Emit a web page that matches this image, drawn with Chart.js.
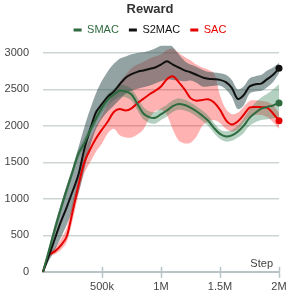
<!DOCTYPE html>
<html><head><meta charset="utf-8">
<script src="https://cdn.jsdelivr.net/npm/chart.js@4.4.1/dist/chart.umd.min.js"></script>
<style>html,body{margin:0;padding:0;background:#fff}canvas{display:block}</style>
</head><body>
<canvas id="c" width="300" height="300"></canvas>
<script>
const steps = [0,50000,100000,150000,200000,250000,300000,350000,400000,450000,
  500000,550000,600000,650000,700000,750000,800000,850000,900000,950000,
  1000000,1050000,1100000,1150000,1200000,1250000,1300000,1350000,1400000,1450000,
  1500000,1550000,1600000,1650000,1700000,1750000,1800000,1850000,1900000,1950000,2000000];
const xTickValues = [0,500000,1000000,1500000,2000000];
const xTickLabels = ['','500k','1M','1.5M','2M'];
const yTickValues = [0,500,1000,1500,2000,2500,3000];
const seriesNames = ['SMAC','S2MAC','SAC'];

const smacMean = [0,290,580,860,1120,1370,1620,1760,1940,2100,
  2250,2360,2430,2480,2470,2430,2300,2170,2120,2110,
  2160,2210,2270,2300,2285,2250,2200,2140,2070,1970,
  1890,1855,1870,1920,2000,2110,2180,2235,2260,2280,2315];
const smacUpper = [0,340,640,920,1180,1430,1680,1830,2010,2170,
  2320,2440,2510,2560,2550,2510,2390,2260,2200,2190,
  2240,2290,2350,2380,2360,2320,2270,2210,2140,2040,
  1950,1925,1945,2000,2100,2220,2320,2390,2440,2500,2570];
const smacLower = [0,250,520,800,1060,1310,1560,1700,1880,2040,
  2180,2280,2350,2400,2390,2350,2210,2090,2040,2030,
  2080,2130,2190,2220,2210,2180,2130,2070,2000,1900,
  1820,1785,1795,1840,1900,2000,2050,2080,2090,2100,2110];

const s2macMean = [0,220,450,680,880,1100,1330,1680,1950,2190,
  2300,2400,2470,2570,2660,2710,2740,2760,2780,2800,
  2840,2885,2840,2800,2760,2735,2700,2665,2645,2640,
  2630,2600,2520,2370,2420,2540,2570,2580,2640,2700,2790];
const s2macUpper = [0,320,650,920,1180,1420,1700,1980,2230,2450,
  2620,2750,2850,2920,2950,2980,3000,3010,3030,3060,
  3100,3150,3080,2980,2890,2840,2810,2770,2740,2730,
  2720,2700,2630,2500,2540,2650,2680,2700,2760,2800,2860];
const s2macLower = [0,150,300,460,640,850,1080,1400,1720,1960,
  2100,2200,2280,2360,2440,2480,2510,2530,2550,2580,
  2610,2640,2630,2620,2610,2620,2590,2540,2540,2550,
  2550,2500,2400,2230,2280,2440,2470,2480,2530,2600,2720];

const sacMean = [0,230,280,360,480,820,1180,1500,1680,1830,
  1950,2060,2190,2230,2210,2240,2310,2370,2430,2480,
  2540,2640,2680,2600,2500,2380,2345,2355,2365,2320,
  2220,2080,2020,2060,2150,2250,2260,2255,2250,2170,2070];
const sacUpper = [0,260,330,440,600,960,1320,1640,1830,2000,
  2150,2300,2450,2600,2700,2790,2840,2880,2920,2950,
  2980,3040,3060,3000,2945,2900,2840,2800,2770,2720,
  2420,2230,2160,2180,2260,2340,2350,2340,2330,2280,2180];
const sacLower = [0,200,240,300,400,700,1050,1350,1500,1650,
  1760,1900,1960,1870,1840,1840,1880,1950,2100,2200,
  2220,2150,1950,1800,1760,1770,1850,2000,2060,2080,
  2040,1960,1920,1950,2050,2120,2150,2150,2120,2050,1960];

const colors = {SMAC:'#2e6b3f', S2MAC:'#111111', SAC:'#e60000'};
const bandColors = {SMAC:'rgba(46,125,80,0.36)', S2MAC:'rgba(47,79,79,0.52)', SAC:'rgba(255,0,0,0.30)'};
const axisColor = '#b8c4c6';

const pts = arr => arr.map((v,i)=>({x:steps[i], y:v}));
const last = steps.length - 1;

function lineDs(name, mean){
  return {label:name, data:pts(mean), borderColor:colors[name], backgroundColor:colors[name],
    borderWidth:2, fill:false, tension:0.3, order:0, clip:6,
    pointRadius:ctx=>ctx.dataIndex===last?3.5:0, pointHoverRadius:0,
    pointBackgroundColor:colors[name], pointBorderWidth:0};
}
function bandDs(name, lo, hi){
  return [
    {label:name+' lo', data:pts(lo), borderWidth:0, pointRadius:0, fill:false, tension:0.3, order:5, clip:12, borderColor:'rgba(0,0,0,0)'},
    {label:name+' hi', data:pts(hi), borderWidth:0, pointRadius:0, fill:'-1', tension:0.3, order:5, clip:12, borderColor:'rgba(0,0,0,0)', backgroundColor:bandColors[name]}
  ];
}

const FONT = "'Liberation Sans', Arial, sans-serif";
Chart.defaults.font.family = FONT;

const axisExtras = {
  id:'axisExtras',
  afterDraw(chart){
    const {ctx, chartArea} = chart;
    const xs = chart.scales.x;
    ctx.save();
    ctx.strokeStyle = axisColor;
    ctx.lineWidth = 1.5;
    xTickValues.forEach(v=>{
      if (v === 0) return;
      const px = Math.round(xs.getPixelForValue(v)) + 0.5;
      ctx.beginPath();
      ctx.moveTo(px, chartArea.bottom);
      ctx.lineTo(px, chartArea.bottom - 5);
      ctx.stroke();
    });
    ctx.font = '11px ' + FONT;
    ctx.fillStyle = '#444';
    ctx.textAlign = 'right';
    ctx.textBaseline = 'alphabetic';
    ctx.fillText('Step', chartArea.right - 6, chartArea.bottom - 5);
    ctx.restore();
  }
};

new Chart(document.getElementById('c'), {
  type:'line',
  data:{datasets:[
    lineDs('SMAC', smacMean),
    lineDs('S2MAC', s2macMean),
    lineDs('SAC', sacMean),
    ...bandDs('S2MAC', s2macLower, s2macUpper),
    ...bandDs('SMAC', smacLower, smacUpper),
    ...bandDs('SAC', sacLower, sacUpper)
  ]},
  options:{
    responsive:false, animation:false, devicePixelRatio:1,
    layout:{padding:{left:0,right:0,top:0,bottom:3}},
    plugins:{
      title:{display:true, text:'Reward', color:'#333', font:{size:13, weight:'bold'}, padding:{top:2,bottom:-3}},
      legend:{
        labels:{
          boxWidth:8, boxHeight:3, padding:10, font:{size:11},
          filter:item=>seriesNames.includes(item.text),
          generateLabels:chart=>{
            const items = Chart.defaults.plugins.legend.labels.generateLabels(chart);
            return items.map(it=>{
              const c = colors[it.text];
              if (c){ it.fontColor = c; it.fillStyle = c; it.strokeStyle = c; it.lineWidth = 0; }
              return it;
            });
          }
        }
      },
      tooltip:{enabled:false}
    },
    scales:{
      x:{type:'linear', min:0, max:2000000,
        afterBuildTicks:scale=>{ scale.ticks = xTickValues.map(v=>({value:v})); },
        afterFit:scale=>{ scale.paddingRight = 21; scale.paddingLeft = 0; },
        ticks:{autoSkip:false, maxRotation:0, color:'#444', font:{size:11}, padding:3,
          callback:(v)=>{ const i = xTickValues.indexOf(v); return i>=0 ? xTickLabels[i] : ''; }},
        grid:{drawOnChartArea:false, drawTicks:true, tickLength:6, tickWidth:1.5,
          tickColor:ctx=>(ctx.tick && ctx.tick.value===0)?'rgba(0,0,0,0)':axisColor},
        border:{display:true, color:axisColor, width:2}
      },
      y:{min:0, max:3100,
        afterBuildTicks:scale=>{ scale.ticks = yTickValues.map(v=>({value:v})); },
        afterFit:scale=>{ scale.width = 43; },
        ticks:{color:'#444', font:{size:11}, padding:14, callback:v=>String(v)},
        grid:{color:'#cdd5d1', lineWidth:1.5, drawTicks:false},
        border:{display:false}
      }
    }
  },
  plugins:[axisExtras]
});
</script>
</body></html>
